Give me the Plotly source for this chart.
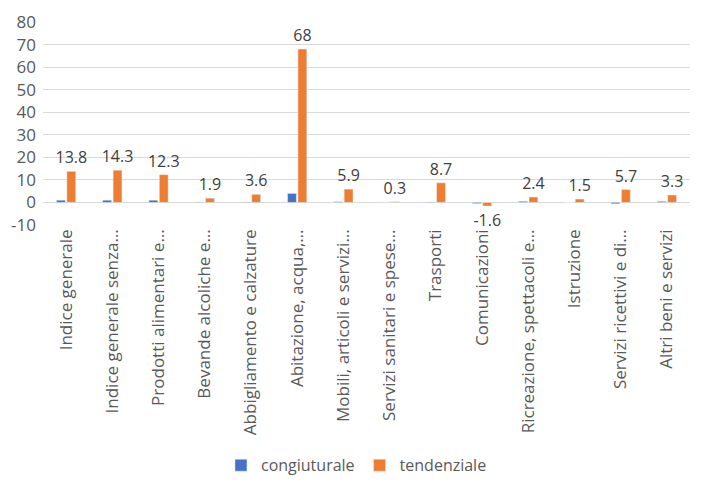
import plotly.graph_objects as go

categories = [
    "Indice generale",
    "Indice generale senza…",
    "Prodotti alimentari e…",
    "Bevande alcoliche e…",
    "Abbigliamento e calzature",
    "Abitazione, acqua,…",
    "Mobili, articoli e servizi…",
    "Servizi sanitari e spese…",
    "Trasporti",
    "Comunicazioni",
    "Ricreazione, spettacoli e…",
    "Istruzione",
    "Servizi ricettivi e di…",
    "Altri beni e servizi",
]
congiunturale = [1.0, 1.0, 1.0, 0.2, 0.2, 4.0, 0.3, 0.1, 0.2, -0.5, 0.5, 0.0, -0.6, 0.5]
tendenziale = [13.8, 14.3, 12.3, 1.9, 3.6, 68, 5.9, 0.3, 8.7, -1.6, 2.4, 1.5, 5.7, 3.3]
y_ticks = [-10, 0, 10, 20, 30, 40, 50, 60, 70, 80]

font_name = "Open Sans"
grey = "#595959"

fig = go.Figure()
fig.add_trace(go.Bar(
    x=categories, y=congiunturale, name="congiuturale",
    marker=dict(color="#4472C4"),
))
fig.add_trace(go.Bar(
    x=categories, y=tendenziale, name="tendenziale",
    marker=dict(color="#ED7D31"),
    text=[str(v) for v in tendenziale], textposition="outside",
    constraintext="none",
    textfont=dict(size=16, color="#404040", family=font_name),
    cliponaxis=False,
))

# page body has an 8px margin, so the figure is shifted; margins compensate
fig.update_layout(
    width=704, height=489,
    margin=dict(l=35, r=22, t=14, b=272),
    plot_bgcolor="white", paper_bgcolor="white",
    font=dict(family=font_name, color=grey, size=14),
    barmode="group", bargap=0.55, bargroupgap=0.15,
    showlegend=True,
    legend=dict(orientation="h", xref="container", x=0.495, xanchor="center",
                yref="container", y=0.03, yanchor="bottom",
                font=dict(size=16, color=grey), traceorder="normal",
                itemwidth=30),
)
fig.update_xaxes(tickangle=-90, tickfont=dict(size=17, color=grey),
                 showgrid=False, showline=False, ticks="", automargin=False)
fig.update_yaxes(range=[-10, 80], tickvals=y_ticks, ticktext=[str(t) for t in y_ticks],
                 tickfont=dict(size=17, color=grey),
                 showgrid=True, gridcolor="#D9D9D9", gridwidth=1,
                 zeroline=True, zerolinecolor="#D9D9D9", zerolinewidth=1,
                 showline=False, ticks="", automargin=False, ticklabelstandoff=6)

fig.write_html("out.html")
